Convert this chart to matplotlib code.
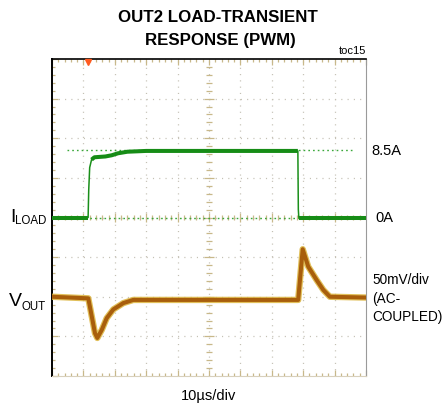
import matplotlib
matplotlib.use("Agg")
import matplotlib.pyplot as plt
import numpy as np
from matplotlib.collections import LineCollection

plt.rcParams["font.family"] = ["Liberation Sans", "DejaVu Sans"]
plt.rcParams["lines.scale_dashes"] = False

# ILOAD trace: time (us) vs current (A)
t_iload = [0, 11.5, 11.7, 12.0, 12.6, 13.5, 17.0, 19.0, 21.0, 24.0, 30.0, 78.3, 78.45, 78.6, 100]
iload = [0, 0, 3.5, 6.3, 7.3, 7.6, 7.7, 7.85, 8.1, 8.3, 8.4, 8.4, 1.0, 0, 0]

# VOUT trace: time (us) vs AC-coupled deviation (mV)
t_vout = [0, 11.56, 13.69, 14.43, 15.83, 17.42, 19.52, 22.71, 25.89, 40.0, 78.4,
          79.84, 81.6, 84.3, 86.4, 88.5, 100]
vout = [0, -2, -46, -52, -42, -27, -16, -8, -4, -4, -4,
        60, 38, 21, 8.6, 0, -1]

ILOAD_STEP = 8.5        # A, dotted reference line
TRIGGER_T = 11.5        # us

W, H = 446, 404
fig = plt.figure(figsize=(W / 100, H / 100), dpi=100)
ax = fig.add_axes([52 / W, 1 - 376 / H, 314 / W, 317 / H])
ax.set_xlim(0, 100)
ax.set_ylim(0, 8)

# scope graticule
grid_kw = dict(color="#c4c0b4", lw=0.9, linestyle=(0, (0.8, 3.72)), zorder=1)
for x in range(10, 100, 10):
    ax.axvline(x, **grid_kw)
for y in range(1, 8):
    ax.axhline(y, **grid_kw)

tick_col = "#c8b88a"
segs = []
for k in range(1, 50):
    x = k * 2
    h = 0.12 if k % 5 == 0 else 0.07
    segs.append([(x, 4 - h), (x, 4 + h)])
for k in range(1, 40):
    y = k * 0.2
    w = 1.6 if k % 5 == 0 else 0.9
    segs.append([(50 - w, y), (50 + w, y)])
ax.add_collection(LineCollection(segs, colors=tick_col, lw=0.9, zorder=1))

ax.set_xticks(np.arange(0, 101, 10))
ax.set_xticks(np.arange(0, 101, 2), minor=True)
ax.set_yticks(np.arange(0, 9, 1))
ax.set_yticks(np.arange(0, 8.01, 0.2), minor=True)
ax.tick_params(which="both", direction="in", top=True, right=True,
               labelbottom=False, labelleft=False, color=tick_col, width=0.9)
ax.tick_params(which="major", length=4.5)
ax.tick_params(which="minor", length=2.5)
ax.spines["left"].set_color("black")
ax.spines["left"].set_linewidth(1.4)
ax.spines["top"].set_color("black")
ax.spines["top"].set_linewidth(1.2)
ax.spines["right"].set_color("#9a9a9a")
ax.spines["bottom"].set_color("#d8d0bc")

ax.plot(TRIGGER_T, 7.93, marker="v", color="#ff5a1f", ms=5, clip_on=False, zorder=6)

# current channel: 5 A/div, 0 A at centre
ax_i = ax.twinx()
ax_i.set_ylim(-20, 20)
ax_i.axis("off")
ax_i.plot([4.8, 96.3], [ILOAD_STEP, ILOAD_STEP], color="#3aa83a", lw=1.0,
          linestyle=(0, (1.2, 2.2)), zorder=2)
ax_i.axhline(0, color="#3aa83a", lw=1.0, linestyle=(0, (1.2, 2.2)), zorder=2)
ax_i.plot(t_iload, iload, color="#1a8f1a", lw=1.1, zorder=3)
flat = [(0, 2), (4, 12), (13, 15)]
for a, b in flat:
    ax_i.plot(t_iload[a:b], iload[a:b], color="#168c16", lw=2.9,
              solid_capstyle="butt", zorder=3)

# voltage channel: 50 mV/div, 0 at 2nd division
ax_v = ax.twinx()
ax_v.set_ylim(-100, 300)
ax_v.axis("off")
ax_v.plot(t_vout, vout, color="#dcb43c", lw=4.6, alpha=0.85, zorder=4,
          solid_joinstyle="round")
ax_v.plot(t_vout, vout, color="#a85e0c", lw=2.9, zorder=5, solid_joinstyle="round")


def ftext(x, y, s, **kw):
    fig.text(x / W, 1 - y / H, s, **kw)


ftext(218, 17, "OUT2 LOAD-TRANSIENT", ha="center", va="center",
      fontsize=12.2, fontweight="bold")
ftext(220, 40, "RESPONSE (PWM)", ha="center", va="center",
      fontsize=12.2, fontweight="bold")
ftext(366, 51, "toc15", ha="right", va="center", fontsize=8)
ftext(10, 221.5, "I", ha="left", va="baseline", fontsize=14)
ftext(15, 224, "LOAD", ha="left", va="baseline", fontsize=8.3)
ftext(9, 306.5, "V", ha="left", va="baseline", fontsize=14)
ftext(22, 309.5, "OUT", ha="left", va="baseline", fontsize=8.3)
ftext(371, 151, "8.5A", ha="left", va="center", fontsize=10.5)
ftext(375, 218, "0A", ha="left", va="center", fontsize=10.5)
ftext(372, 280, "50mV/div", ha="left", va="center", fontsize=9.8)
ftext(372, 298.5, "(AC-", ha="left", va="center", fontsize=9.8)
ftext(372, 317, "COUPLED)", ha="left", va="center", fontsize=9.8)
ftext(209, 396, "10µs/div", ha="center", va="center", fontsize=10.5)

fig.savefig("out.png", dpi=100)
